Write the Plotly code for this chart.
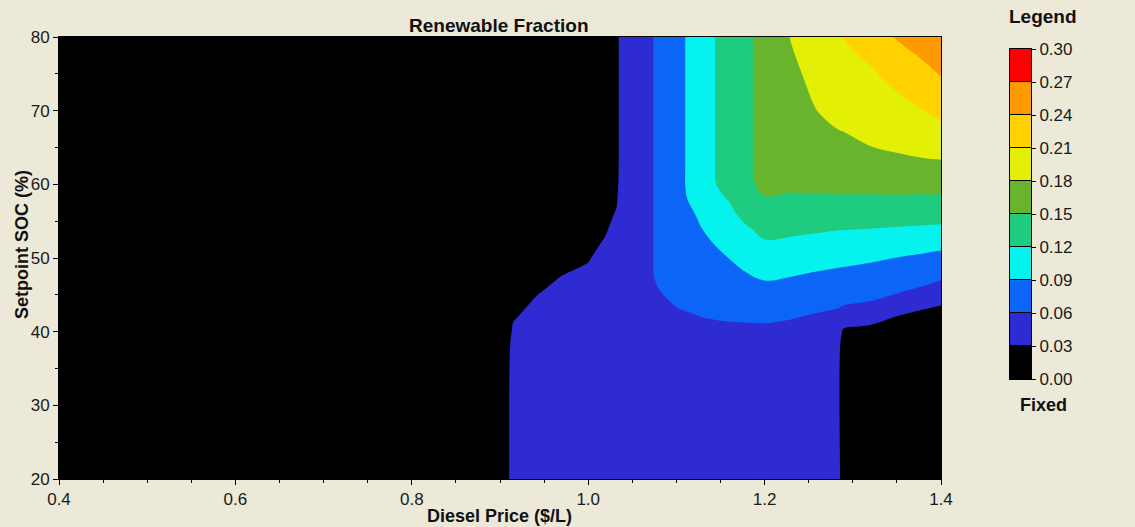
import plotly.graph_objects as go

# ---------------- data ----------------
price = [0.40, 0.905, 0.915, 0.94, 0.97, 1.00, 1.02, 1.032, 1.036, 1.06, 1.08, 1.10, 1.12,
         1.14, 1.16, 1.18, 1.20, 1.23, 1.26, 1.284, 1.289, 1.32, 1.35, 1.38, 1.40]

setpoint_soc = [20, 38, 40, 42, 44, 46, 48, 50, 52, 54, 56, 58, 60, 62, 65, 68, 71, 74, 77, 80]

renewable_fraction = [
    [0, 0, .055, .055, .055, .055, .055, .055, .045, .045, .045, .045, .045, .045, .045, .045, .045, .045, .045, .045, 0, 0, 0, 0, 0],
    [0, 0, .0465, .055, .055, .055, .055, .055, .045, .045, .045, .045, .045, .045, .045, .045, .045, .045, .045, .045, 0, 0, 0, 0, 0],
    [0, 0, .0365, .0535, .055, .055, .055, .055, .045, .045, .045, .045, .0497, .0525, .0544, .0544, .0544, .052, .0491, .0469, .025, .0136, 0, 0, 0],
    [0, 0, .0265, .0435, .055, .055, .055, .055, .045, .045, .045, .0518, .0591, .0614, .0628, .0635, .0642, .0616, .0572, .0546, .05, .05, .029, .01, 0],
    [0, 0, .0165, .0335, .048, .055, .055, .055, .045, .045, .0504, .0642, .0638, .0669, .0697, .0724, .0746, .0719, .0671, .0634, .0628, .0591, .052, .05, .039],
    [0, 0, .0065, .0235, .038, .047, .055, .055, .045, .045, .061, .0747, .068, .0725, .0766, .0812, .085, .0822, .078, .0747, .0742, .0704, .0654, .0587, .053],
    [0, 0, 0, .0135, .028, .037, .055, .055, .045, .045, .0664, .08, .0723, .0781, .0834, .0901, .0957, .0928, .0889, .086, .0855, .0819, .0774, .0716, .0673],
    [0, 0, 0, .0035, .018, .027, .0455, .055, .045, .045, .0664, .08, .0765, .0836, .0904, .0991, .1065, .1039, .1004, .0976, .0972, .0939, .0894, .0852, .082],
    [0, 0, 0, 0, .008, .017, .0355, .054, .045, .045, .0664, .08, .0807, .0892, .0981, .1082, .1173, .115, .1119, .1094, .1092, .107, .1039, .1005, .0979],
    [0, 0, 0, 0, 0, .007, .0255, .044, .045, .045, .0664, .08, .0849, .0963, .1058, .1173, .1278, .1261, .1236, .1213, .1213, .1201, .1185, .1168, .1156],
    [0, 0, 0, 0, 0, 0, .0155, .034, .045, .045, .0664, .08, .0892, .1038, .1135, .1303, .1381, .1371, .1356, .1343, .1343, .1333, .1326, .1314, .131],
    [0, 0, 0, 0, 0, 0, .0055, .024, .045, .045, .0664, .08, .0962, .1113, .1218, .145, .1484, .1481, .1476, .1474, .1474, .1467, .1465, .1457, .1456],
    [0, 0, 0, 0, 0, 0, 0, .014, .045, .045, .0664, .08, .10, .115, .1339, .145, .1557, .1524, .1543, .1555, .1556, .1568, .1582, .1589, .1591],
    [0, 0, 0, 0, 0, 0, 0, .004, .045, .045, .0664, .08, .10, .115, .14, .145, .159, .1553, .1597, .1623, .1627, .1659, .1691, .1717, .1722],
    [0, 0, 0, 0, 0, 0, 0, 0, .045, .045, .0664, .08, .10, .115, .14, .145, .159, .1597, .1678, .1725, .1733, .1795, .1834, .1876, .1898],
    [0, 0, 0, 0, 0, 0, 0, 0, .045, .045, .0664, .08, .10, .115, .14, .145, .159, .164, .1759, .1818, .1826, .1877, .1936, .201, .2062],
    [0, 0, 0, 0, 0, 0, 0, 0, .045, .045, .0664, .08, .10, .115, .14, .145, .159, .1684, .1823, .1883, .1895, .1957, .2039, .2144, .2217],
    [0, 0, 0, 0, 0, 0, 0, 0, .045, .045, .0664, .08, .10, .115, .14, .145, .159, .1727, .1869, .1949, .1965, .2036, .2153, .2276, .2369],
    [0, 0, 0, 0, 0, 0, 0, 0, .045, .045, .0664, .08, .10, .115, .14, .145, .159, .1771, .1914, .2014, .2035, .2127, .2285, .2411, .2511],
    [0, 0, 0, 0, 0, 0, 0, 0, .045, .045, .0664, .08, .10, .115, .14, .145, .159, .181, .196, .208, .2105, .226, .242, .257, .265],
]

legend_ticks = [0.00, 0.03, 0.06, 0.09, 0.12, 0.15, 0.18, 0.21, 0.24, 0.27, 0.30]
x_ticks = [0.4, 0.6, 0.8, 1.0, 1.2, 1.4]
y_ticks = [20, 30, 40, 50, 60, 70, 80]

# ---------------- style ----------------
band_colors = ["#000000", "#2E2BD2", "#0B66F7", "#05F2EE", "#1FCB7F",
               "#68B42C", "#E3F005", "#FFD200", "#FF9A00", "#FF0000"]
BG = "#ECE9D8"
FONT = "Liberation Sans, Arial, sans-serif"

W, H = 1135, 527
ML, MR, MT, MB = 59, 10, 37, 48
PW, PH = W - ML - MR, H - MT - MB


def px_x(p):
    return (p - ML) / PW


def px_y(p):
    return (H - MB - p) / PH


step = legend_ticks[1] - legend_ticks[0]
n = len(band_colors)
zmin = legend_ticks[0] + step / 2
zmax = legend_ticks[-1] - step / 2
colorscale = []
for i, c in enumerate(band_colors):
    lo = max(0.0, (i - 0.5) / (n - 1))
    hi = min(1.0, (i + 0.5) / (n - 1))
    colorscale += [[lo, c], [hi, c]]

fig = go.Figure()
fig.add_trace(go.Contour(
    x=price, y=setpoint_soc, z=renewable_fraction,
    autocontour=False,
    contours=dict(start=legend_ticks[1], end=legend_ticks[-2], size=step,
                  coloring="fill", showlines=False),
    line=dict(width=0),
    colorscale=colorscale, zmin=zmin, zmax=zmax,
    showscale=False, hoverinfo="skip",
    xaxis="x", yaxis="y",
))

band_centers = [(a + b) / 2 for a, b in zip(legend_ticks[:-1], legend_ticks[1:])]
fig.add_trace(go.Heatmap(
    x=[0], y=band_centers, z=[[v] for v in band_centers],
    colorscale=colorscale, zmin=zmin, zmax=zmax,
    showscale=False, ygap=1, hoverinfo="skip",
    xaxis="x2", yaxis="y2",
))

tick_font = dict(family=FONT, size=17, color="#1a1a1a")
axis_common = dict(showline=True, linecolor="black", linewidth=1, mirror=True,
                   ticks="outside", ticklen=5, tickcolor="black", tickwidth=1,
                   showgrid=False, zeroline=False, tickfont=tick_font,
                   automargin=False)

fig.update_layout(
    width=W, height=H,
    margin=dict(l=ML, r=MR, t=MT, b=MB, autoexpand=False),
    paper_bgcolor=BG, plot_bgcolor="black",
    showlegend=False,
    xaxis=dict(domain=[0, px_x(941)], range=[x_ticks[0], x_ticks[-1]],
               tickvals=x_ticks, ticktext=[f"{v:.1f}" for v in x_ticks],
               minor=dict(dtick=0.05, tick0=0.4, ticks="outside", ticklen=3,
                          tickcolor="black", showgrid=False),
               anchor="y", **axis_common),
    yaxis=dict(domain=[0, 1], range=[y_ticks[0], y_ticks[-1]],
               tickvals=y_ticks, ticktext=[str(v) for v in y_ticks],
               minor=dict(dtick=5, tick0=20, ticks="outside", ticklen=3,
                          tickcolor="black", showgrid=False),
               anchor="x", **axis_common),
    xaxis2=dict(domain=[px_x(1010), px_x(1031)], anchor="y2",
                showticklabels=False, ticks="", showgrid=False, zeroline=False,
                showline=True, linecolor="black", mirror=True, fixedrange=True,
                automargin=False),
    yaxis2=dict(domain=[px_y(379), px_y(49)], anchor="x2", side="right",
                range=[legend_ticks[0], legend_ticks[-1]],
                tickvals=legend_ticks, ticktext=[f"{v:.2f}" for v in legend_ticks],
                ticks="outside", ticklen=4, tickcolor="black",
                showgrid=False, zeroline=False, tickfont=tick_font,
                showline=True, linecolor="black", mirror=True, fixedrange=True,
                automargin=False),
    annotations=[
        dict(text="<b>Renewable Fraction</b>", x=px_x(499), y=px_y(25),
             xref="paper", yref="paper", showarrow=False,
             xanchor="center", yanchor="middle",
             font=dict(family=FONT, size=19, color="#111")),
        dict(text="<b>Diesel Price ($/L)</b>", x=px_x(499), y=px_y(516),
             xref="paper", yref="paper", showarrow=False,
             xanchor="center", yanchor="middle",
             font=dict(family=FONT, size=18, color="#111")),
        dict(text="<b>Setpoint SOC (%)</b>", x=px_x(22), y=px_y(245),
             xref="paper", yref="paper", showarrow=False, textangle=-90,
             xanchor="center", yanchor="middle",
             font=dict(family=FONT, size=18, color="#111")),
        dict(text="<b>Legend</b>", x=px_x(1043), y=px_y(17),
             xref="paper", yref="paper", showarrow=False,
             xanchor="center", yanchor="middle",
             font=dict(family=FONT, size=19, color="#111")),
        dict(text="<b>Fixed</b>", x=px_x(1043), y=px_y(405),
             xref="paper", yref="paper", showarrow=False,
             xanchor="center", yanchor="middle",
             font=dict(family=FONT, size=18, color="#111")),
    ],
)

fig.write_html(
    "out.html",
    config={"displayModeBar": False, "staticPlot": True},
    post_script=("document.body.style.margin='0';"
                 "document.body.style.padding='0';"
                 "document.body.style.background='" + BG + "';"
                 "document.documentElement.style.background='" + BG + "';"),
)
